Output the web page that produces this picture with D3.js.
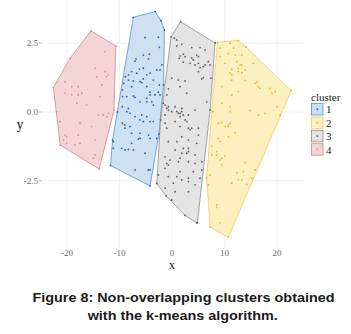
<!DOCTYPE html>
<html>
<head>
<meta charset="utf-8">
<script src="https://cdn.jsdelivr.net/npm/d3@7"></script>
<style>
  body { margin: 0; background: #fff; }
  svg { display: block; }
</style>
</head>
<body>
<svg id="svg1" width="351" height="334"></svg>
<script>
// points of each cluster, [x, y] in data units
var cluster1 = [
  [-7.37,3.44],[-3.24,3.65],[-2.10,3.32],[-1.47,2.98],[-1.62,0.98],[-2.5,-0.8],[-4.19,-2.69],[-11.71,-1.95],[-11.33,-1.02],[-10.42,0.00],
  [-5.14,2.70],[-2.61,2.72],[-2.42,2.35],[-5.47,2.07],[-4.32,2.10],[-4.51,1.93],[-6.86,1.93],[-7.05,1.85],[-1.96,1.71],[-2.91,1.53],
  [-2.29,1.53],[-6.23,1.56],[-5.47,1.59],[-7.68,1.47],[-6.72,1.41],[-8.32,1.35],[-4.82,1.35],[-4.19,1.41],[-3.56,1.16],[-8.9,1.28],
  [-8.32,1.16],[-7.37,1.13],[-5.47,1.20],[-6.10,1.10],[-5.77,1.07],[-9.2,1.04],[-7.68,0.92],[-4.82,0.92],[-2.42,0.98],[-4.19,0.72],
  [-2.61,0.72],[-9.45,0.80],[-9.45,0.56],[-8.63,0.56],[-7.37,0.58],[-7.05,0.53],[-4.19,0.62],[-3.24,0.62],[-2.29,0.62],[-6.10,0.37],
  [-4.82,0.37],[-3.87,0.37],[-4.82,0.50],[-3.56,0.25],[-9.45,0.19],[-8.32,0.13],[-8.63,0.01],[-8.0,-0.05],[-7.05,-0.17],[-6.10,-0.29],
  [-5.77,-0.11],[-4.82,-0.17],[-5.47,-0.35],[-4.19,-0.35],[-3.56,-0.35],[-9.45,-0.41],[-9.0,-0.47],[-8.95,-0.59],[-8.0,-0.53],[-7.68,-0.77],
  [-6.10,-0.77],[-4.51,-0.84],[-4.19,-0.96],[-6.10,-0.96],[-6.42,-0.99],[-2.9,-0.96],[-7.68,-1.14],[-9.58,-1.32],[-8.95,-1.38],[-8.32,-1.36],
  [-7.37,-1.38],[-11.18,-1.08],[-11.18,-1.32],[-5.14,-1.50],[-7.05,-2.11],[-4.51,-2.11],[-4.19,-2.11]
];
var cluster2 = [
  [8.63,2.53],[12.63,2.60],[14.10,2.36],[22.67,0.78],[10.72,-4.55],[7.24,-4.19],[6.57,-2.40],
  [11.05,2.50],[9.14,2.32],[11.68,2.32],[10.72,2.13],[12.0,2.07],[13.28,2.07],[9.14,2.01],[10.10,1.77],[12.32,1.83],
  [12.95,1.71],[13.28,1.71],[15.49,1.77],[11.37,1.55],[12.63,1.59],[13.90,1.53],[11.05,1.41],[11.37,1.35],[12.63,1.47],[13.28,1.43],
  [13.90,1.14],[11.37,1.16],[16.13,1.10],[15.81,1.04],[16.44,0.92],[16.76,0.86],[18.67,0.86],[19.62,0.74],[18.99,0.68],[9.47,0.92],
  [12.63,0.74],[11.37,0.62],[9.47,0.32],[11.05,0.19],[19.94,0.19],[11.05,0.01],[14.86,0.05],[17.71,-0.05],[16.44,-0.11],[20.57,-0.11],
  [8.82,-0.41],[10.10,-0.53],[10.72,-0.53],[11.05,-0.41],[7.8,0.01],[9.47,-0.39],[10.72,-0.47],[12.0,-0.75],[8.82,-0.96],[10.72,-0.90],
  [9.14,-1.08],[7.56,-1.24],[8.51,-1.44],[8.51,-1.56],[7.56,-1.56],[9.47,-1.68],[9.14,-1.75],[10.10,-1.60],[9.47,-1.93],[13.90,-1.84],
  [13.58,-2.17],[12.32,-2.21],[15.81,-2.11],[7.24,-2.29],[12.63,-2.47],[13.28,-2.47],[15.18,-2.41],[11.37,-2.59],[14.23,-2.62],[6.91,-2.65],
  [8.51,-3.38],[8.51,-3.47],[9.14,-4.03]
];
var cluster3 = [
  [1.62,3.28],[8.19,2.51],[7.24,0.07],[4.82,-4.03],[2.48,-3.76],[-1.14,-3.05],[-2.91,-2.60],[-2.19,-0.29],[-0.19,2.73],
  [0.44,2.68],[0.90,2.62],[0.90,2.40],[1.85,2.46],[3.75,2.34],[5.33,2.34],[6.29,2.25],[2.15,2.10],[2.48,2.01],[1.52,2.04],
  [1.39,1.95],[3.75,1.97],[4.06,1.89],[4.70,2.07],[5.01,2.01],[2.15,1.81],[3.43,1.77],[5.01,1.77],[4.38,1.71],[6.91,1.83],
  [5.33,1.61],[5.96,1.65],[6.29,1.71],[7.24,1.71],[5.01,1.47],[-0.06,1.23],[1.20,1.16],[2.48,1.13],[5.66,1.20],[5.96,1.25],
  [7.4,1.23],[1.52,0.92],[2.80,0.68],[-0.70,0.84],[-1.01,0.62],[-1.66,0.32],[-1.33,0.25],[-0.70,0.19],[-1.01,0.13],[-0.70,0.07],
  [-0.06,0.01],[0.57,0.19],[0.90,0.01],[1.52,-0.05],[1.85,0.13],[3.10,-0.11],[4.38,0.07],[6.61,0.37],[-1.33,-0.11],[2.15,-0.11],
  [1.20,-0.05],[1.85,0.01],[1.52,-0.17],[2.48,-0.29],[2.80,-0.35],[0.57,-0.35],[-1.33,-0.41],[1.52,-0.53],[3.10,-0.59],[3.75,-0.59],
  [3.43,-0.65],[5.01,-0.59],[-1.01,-0.59],[1.85,-0.90],[3.10,-1.02],[5.01,-0.84],[-0.70,-1.08],[0.90,-1.08],[4.70,-1.14],[2.15,-1.32],
  [3.10,-1.32],[3.10,-1.44],[2.80,-1.50],[0.57,-1.38],[1.85,-1.50],[4.38,-1.56],[-1.33,-1.63],[-0.38,-1.75],[1.52,-1.68],[1.20,-1.81],
  [3.10,-1.81],[4.38,-1.87],[5.66,-1.81],[-1.01,-1.87],[-0.70,-1.93],[-1.33,-2.05],[1.52,-2.17],[4.06,-2.17],[5.66,-2.11],[-2.61,-2.29],
  [0.90,-2.35],[-0.70,-2.35],[3.10,-2.41],[3.10,-2.53],[1.85,-2.47],[5.33,-2.41],[0.25,-2.59],[4.38,-2.65],[-1.33,-2.77],[0.57,-2.90],
  [3.10,-2.90],[-0.06,-3.20],[4.70,-4.03]
];
var cluster4 = [
  [-15.43,2.95],[-10.72,2.40],[-11.05,0.07],[-13.9,-2.07],[-21.3,-1.2],[-22.6,0.89],[-19.4,1.96],
  [-12.76,2.19],[-14.67,1.59],[-14.34,1.28],[-12.76,1.47],[-12.13,1.35],[-12.44,1.28],[-13.39,0.98],[-20.38,1.10],[-19.10,0.92],
  [-17.85,0.92],[-20.38,0.68],[-19.10,0.62],[-17.85,0.62],[-17.20,0.68],[-18.15,0.32],[-16.25,0.25],[-13.71,0.56],[-14.04,-0.11],
  [-13.09,-0.11],[-12.13,-0.05],[-12.44,-0.17],[-21.33,-0.35],[-17.52,-0.41],[-15.30,-0.53],[-17.85,-0.84],[-20.38,-0.84],[-20.06,-0.90],
  [-20.70,-1.02],[-20.06,-1.14],[-18.48,-1.20],[-17.52,-1.14],[-14.67,-1.02],[-14.67,-1.56],[-14.99,-1.68],[-21.96,0.01]
];

var clusterNames = ['1', '2', '3', '4'];
var clusterPoints = [cluster1, cluster2, cluster3, cluster4];
var fillColors = ['#cde1f3', '#fcefc0', '#e4e4e4', '#f4d5d5'];
var strokeColors = ['#5094d2', '#efcd5c', '#8d8d8d', '#cf8a8a'];
var pointColors = ['#1d60a6', '#e8b622', '#5a5a5a', '#d88f8f'];

var xTicks = [-20, -10, 0, 10, 20];
var yTicks = [-2.5, 0, 2.5];

var svg = d3.select('#svg1');

var x = d3.scaleLinear().domain([-24.86, 24.93]).range([41.5, 303]);
var y = d3.scaleLinear().domain([-4.96, 4.06]).range([248.4, 0.3]);

// grid
svg.append('g').selectAll('line')
    .data(xTicks)
    .enter().append('line')
    .attr('x1', function(d){ return x(d); })
    .attr('x2', function(d){ return x(d); })
    .attr('y1', y.range()[1]).attr('y2', y.range()[0])
    .attr('stroke', '#ebebeb').attr('stroke-width', 0.8);

svg.append('g').selectAll('line')
    .data(yTicks)
    .enter().append('line')
    .attr('y1', function(d){ return y(d); })
    .attr('y2', function(d){ return y(d); })
    .attr('x1', x.range()[0]).attr('x2', x.range()[1])
    .attr('stroke', '#ebebeb').attr('stroke-width', 0.8);

// hulls
var hulls = svg.append('g');
clusterPoints.forEach(function(pts, i){
    var hull = d3.polygonHull(pts.map(function(p){ return [x(p[0]), y(p[1])]; }));
    hulls.append('path')
        .attr('d', 'M' + hull.join('L') + 'Z')
        .attr('fill', fillColors[i])
        .attr('stroke', strokeColors[i])
        .attr('stroke-width', 0.8)
        .attr('stroke-linejoin', 'round');
});

// points
clusterPoints.forEach(function(pts, i){
    svg.append('g').selectAll('circle')
        .data(pts)
        .enter().append('circle')
        .attr('cx', function(d){ return x(d[0]); })
        .attr('cy', function(d){ return y(d[1]); })
        .attr('r', 0.9)
        .attr('fill', pointColors[i]);
});

// axes text
var serif = '"Liberation Serif", "DejaVu Serif", serif';

svg.append('g').selectAll('text')
    .data(yTicks)
    .enter().append('text')
    .attr('x', 38)
    .attr('y', function(d){ return y(d) + 3; })
    .attr('text-anchor', 'end')
    .attr('font-family', serif)
    .attr('font-size', 9)
    .attr('fill', '#6a6a6a')
    .text(function(d){ return d3.format('.1f')(d).replace('−', '-'); });

svg.append('g').selectAll('line')
    .data(yTicks)
    .enter().append('line')
    .attr('x1', 38.8).attr('x2', 41.5)
    .attr('y1', function(d){ return y(d); })
    .attr('y2', function(d){ return y(d); })
    .attr('stroke', '#888').attr('stroke-width', 0.6);

svg.append('g').selectAll('text')
    .data(xTicks)
    .enter().append('text')
    .attr('x', function(d){ return x(d); })
    .attr('y', 255.5)
    .attr('text-anchor', 'middle')
    .attr('font-family', serif)
    .attr('font-size', 9)
    .attr('fill', '#6a6a6a')
    .text(function(d){ return String(d); });

svg.append('text')
    .attr('x', 20).attr('y', 129)
    .attr('text-anchor', 'middle')
    .attr('font-family', serif)
    .attr('font-size', 14)
    .attr('fill', '#111')
    .text('y');

svg.append('text')
    .attr('x', x(0)).attr('y', 269)
    .attr('text-anchor', 'middle')
    .attr('font-family', serif)
    .attr('font-size', 12)
    .attr('fill', '#111')
    .text('x');

// legend
var legend = svg.append('g').attr('transform', 'translate(311,0)');
legend.append('text')
    .attr('x', 0).attr('y', 101)
    .attr('font-family', serif)
    .attr('font-size', 11)
    .attr('fill', '#222')
    .text('cluster');

var keys = legend.selectAll('g.key')
    .data(clusterNames)
    .enter().append('g')
    .attr('class', 'key')
    .attr('transform', function(d, i){ return 'translate(0,' + (103.5 + i * 13.4) + ')'; });

keys.append('rect')
    .attr('x', 0.5).attr('y', 0)
    .attr('width', 11.5).attr('height', 11.5)
    .attr('fill', function(d, i){ return fillColors[i]; })
    .attr('stroke', function(d, i){ return strokeColors[i]; })
    .attr('stroke-width', 0.8);

keys.append('circle')
    .attr('cx', 6.25).attr('cy', 5.75).attr('r', 0.9)
    .attr('fill', function(d, i){ return pointColors[i]; });

keys.append('text')
    .attr('x', 15).attr('y', 9.8)
    .attr('font-family', serif)
    .attr('font-size', 11)
    .attr('fill', '#222')
    .text(function(d){ return d; });

// caption
var caption = svg.append('g')
    .attr('font-family', '"Liberation Sans", Arial, sans-serif')
    .attr('font-weight', 'bold')
    .attr('font-size', 13)
    .attr('fill', '#1a1a1a')
    .attr('text-anchor', 'middle');

caption.append('text').attr('x', 183.5).attr('y', 301.5)
    .attr('textLength', 302).attr('lengthAdjust', 'spacingAndGlyphs')
    .text('Figure 8: Non-overlapping clusters obtained');
caption.append('text').attr('x', 182.7).attr('y', 319.5)
    .attr('textLength', 190).attr('lengthAdjust', 'spacingAndGlyphs')
    .text('with the k-means algorithm.');
</script>
</body>
</html>
